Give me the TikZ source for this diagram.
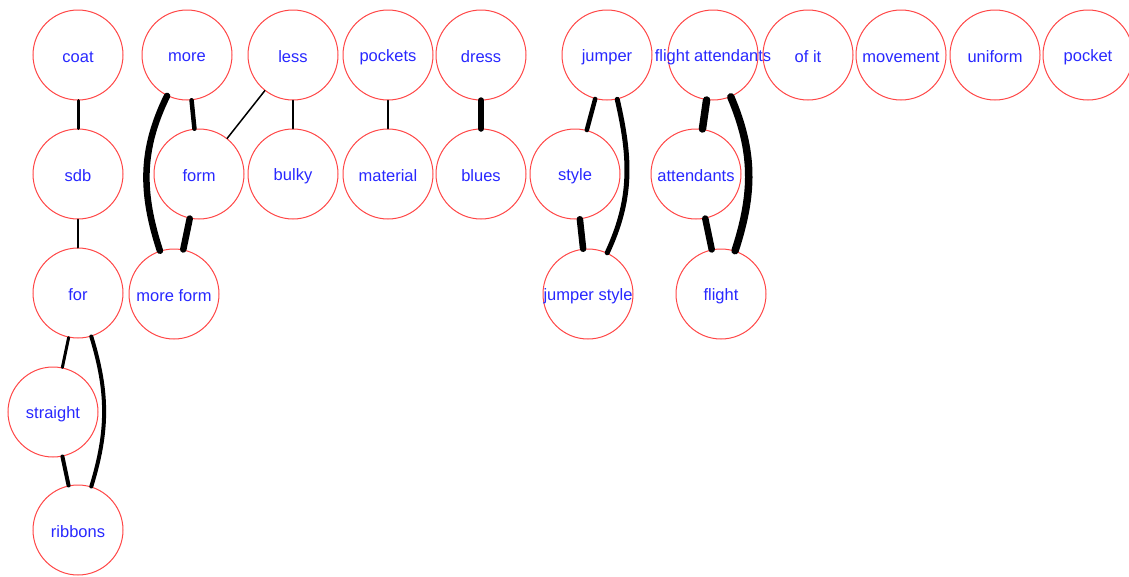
\documentclass[tikz,border=0pt]{standalone}
\usepackage{fontspec}
\setmainfont{Liberation Sans}
\definecolor{cred}{RGB}{255,70,70}
\definecolor{cblue}{RGB}{40,40,255}
\begin{document}
\begin{tikzpicture}[x=1pt,y=-1pt,
  txt/.style={text=cblue, font=\fontsize{16.5}{18}\selectfont, inner sep=0pt},
  vert/.style={circle, draw=cred, line width=1pt, minimum size=90pt, inner sep=0pt, label={[txt,yshift=-2pt]center:#1}},
  edge/.style={draw=black, line width=#1, line cap=round}]
\useasboundingbox (0,0) rectangle (1129,576);
% row 1
\node[vert=coat] (coat) at (78,55) {};
\node[vert=more] (more) at (187,55) {};
\node[vert=less] (less) at (293,55) {};
\node[vert=pockets] (pockets) at (388,55) {};
\node[vert=dress] (dress) at (481,55) {};
\node[vert=jumper] (jumper) at (607,55) {};
\node[vert=flight attendants] (fa) at (713,55) {};
\node[vert=of it] (ofit) at (808,55) {};
\node[vert=movement] (movement) at (901,55) {};
\node[vert=uniform] (uniform) at (995,55) {};
\node[vert=pocket] (pocket) at (1088,55) {};
% row 2
\node[vert=sdb] (sdb) at (78,174) {};
\node[vert=form] (form) at (199,174) {};
\node[vert=bulky] (bulky) at (293,174) {};
\node[vert=material] (material) at (388,174) {};
\node[vert=blues] (blues) at (481,174) {};
\node[vert=style] (style) at (575,174) {};
\node[vert=attendants] (attendants) at (696,174) {};
% row 3
\node[vert=for] (for) at (78,293) {};
\node[vert=more form] (moreform) at (174,294) {};
\node[vert=jumper style] (jumperstyle) at (588,294) {};
\node[vert=flight] (flight) at (721,294) {};
% row 4
\node[vert=straight] (straight) at (53,412) {};
\node[vert=ribbons] (ribbons) at (78,530) {};
% edges
\draw[edge=3pt] (coat) -- (sdb);
\draw[edge=2pt] (sdb) -- (for);
\draw[edge=4.5pt] (more) -- (form);
\draw[edge=6.5pt] (more) to[out=244,in=108] (moreform);
\draw[edge=6.5pt] (form) -- (moreform);
\draw[edge=1.5pt] (less) -- (form);
\draw[edge=1.5pt] (less) -- (bulky);
\draw[edge=1.5pt] (pockets) -- (material);
\draw[edge=6.5pt] (dress) -- (blues);
\draw[edge=4.5pt] (jumper) -- (style);
\draw[edge=5pt] (jumper) to[out=283,in=65] (jumperstyle);
\draw[edge=6.5pt] (style) -- (jumperstyle);
\draw[edge=7.5pt] (fa) -- (attendants);
\draw[edge=7.5pt] (fa) to[out=293,in=72] (flight);
\draw[edge=6.5pt] (attendants) -- (flight);
\draw[edge=3pt] (for) -- (straight);
\draw[edge=4pt] (for) to[out=287,in=73] (ribbons);
\draw[edge=4pt] (straight) -- (ribbons);
\end{tikzpicture}
\end{document}
